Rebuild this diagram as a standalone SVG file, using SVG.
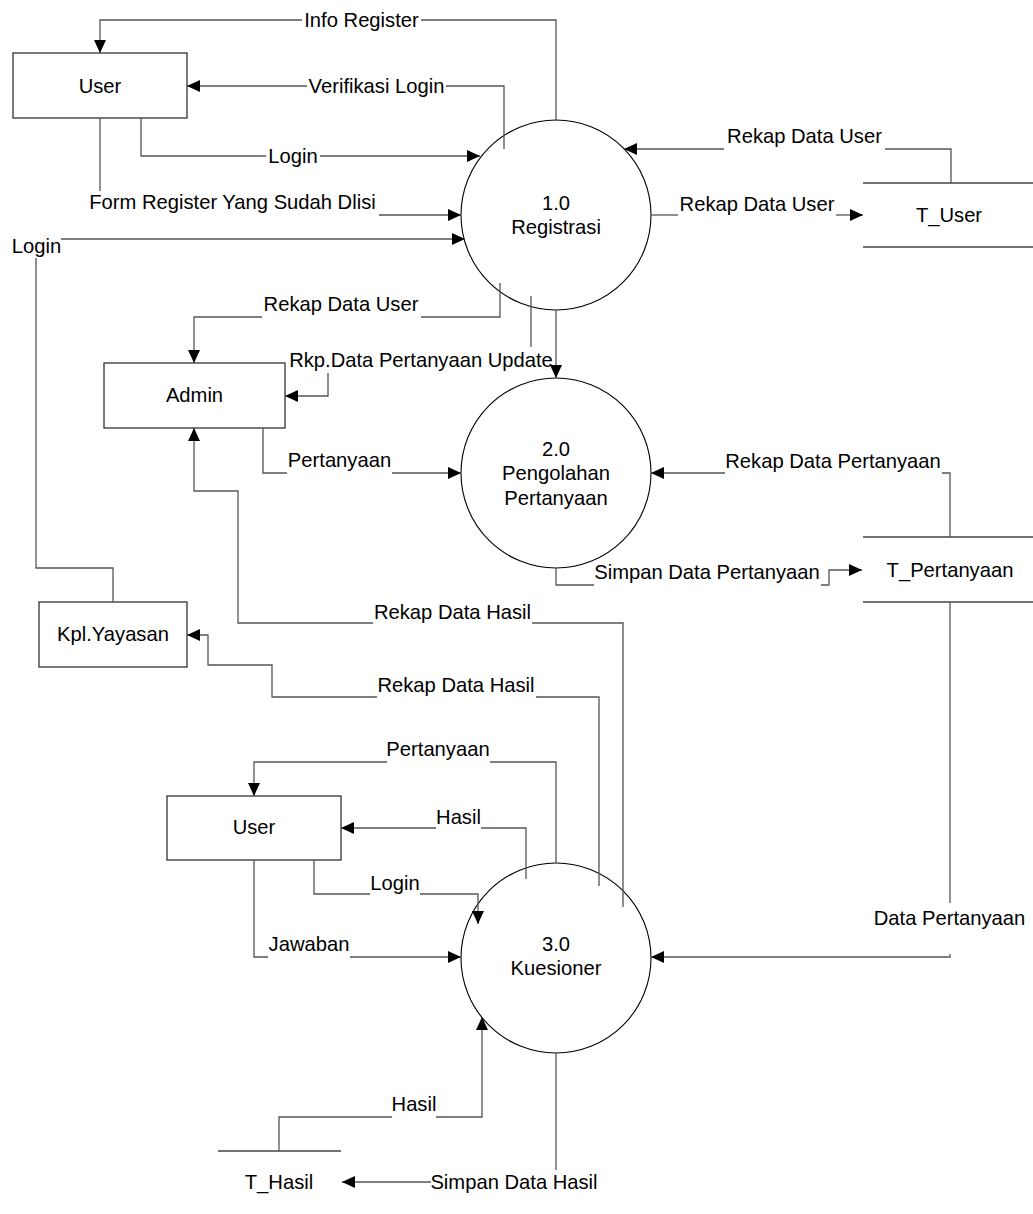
<svg xmlns="http://www.w3.org/2000/svg" width="1033" height="1214" viewBox="0 0 1033 1214">
<style>
text{font-family:"Liberation Sans",Arial,sans-serif;font-size:20.2px;fill:#000;text-anchor:middle}
.ent{fill:#fff;stroke:#333;stroke-width:1.3}
.proc{fill:#fff;stroke:#000;stroke-width:1.1}
.store{fill:none;stroke:#444;stroke-width:1.3}
.c{fill:none;stroke:#555;stroke-width:1.3}
.a{marker-end:url(#arr)}
</style>
<defs>
<marker id="arr" markerUnits="userSpaceOnUse" markerWidth="14" markerHeight="12" refX="13" refY="6" orient="auto">
<path d="M0,0 L13,6 L0,12 z" fill="#000"/>
</marker>
</defs>
<rect width="1033" height="1214" fill="#fff"/>

<g id="p1-registrasi">
<circle class="proc" cx="556" cy="215" r="95"/>
<text x="556" y="210">1.0</text>
<text x="556" y="234">Registrasi</text>
</g>
<g id="p2-pengolahan">
<circle class="proc" cx="556" cy="473" r="95"/>
<text x="556" y="456">2.0</text>
<text x="556" y="480">Pengolahan</text>
<text x="556" y="505">Pertanyaan</text>
</g>
<g id="p3-kuesioner">
<circle class="proc" cx="556" cy="958" r="95"/>
<text x="556" y="951">3.0</text>
<text x="556" y="975">Kuesioner</text>
</g>

<g id="user-top">
<rect class="ent" x="13" y="53" width="174" height="65"/>
<text x="100" y="93">User</text>
</g>
<g id="admin">
<rect class="ent" x="104" y="363" width="181" height="65"/>
<text x="194.5" y="402">Admin</text>
</g>
<g id="kpl-yayasan">
<rect class="ent" x="39" y="602" width="148" height="65"/>
<text x="113" y="641">Kpl.Yayasan</text>
</g>
<g id="user-bottom">
<rect class="ent" x="167" y="796" width="174" height="64"/>
<text x="254" y="834">User</text>
</g>

<g id="t-user">
<path class="store" d="M863,183 H1033 M863,247 H1033"/>
<text x="949" y="222">T_User</text>
</g>
<g id="t-pertanyaan">
<path class="store" d="M863,537 H1033 M863,602 H1033"/>
<text x="950" y="577">T_Pertanyaan</text>
</g>
<g id="t-hasil">
<path class="store" d="M218,1151 H341"/>
<text x="279" y="1189">T_Hasil</text>
</g>

<g id="connectors">
<!-- Info Register -->
<path class="c" d="M556,121 V20 H421"/>
<path class="c a" d="M302,20 H100 V53"/>
<text x="361.5" y="27">Info Register</text>
<!-- Verifikasi Login -->
<path class="c" d="M504,149 V86 H446"/>
<path class="c a" d="M307,86 H187"/>
<text x="376.5" y="93">Verifikasi Login</text>
<!-- Login user -> 1.0 -->
<path class="c" d="M141,118 V156 H266"/>
<path class="c a" d="M320,156 H480"/>
<text x="293" y="163">Login</text>
<!-- Form Register -->
<path class="c" d="M100,118 V191"/>
<text x="232.5" y="209">Form Register Yang Sudah Dlisi</text>
<path class="c a" d="M379,215 H461"/>
<!-- Login Kpl -> 1.0 -->
<path class="c" d="M113,602 V568 H36 V258"/>
<path class="c a" d="M61,239 H465"/>
<text x="36.5" y="253">Login</text>
<!-- Rekap Data User T_User -> 1.0 -->
<path class="c" d="M951,183 V149 H885"/>
<path class="c a" d="M724,149 H624"/>
<text x="804.5" y="143">Rekap Data User</text>
<!-- Rekap Data User 1.0 -> T_User -->
<path class="c" d="M651,215 H678"/>
<path class="c a" d="M836,215 H863"/>
<text x="757" y="211">Rekap Data User</text>
<!-- Rekap Data User 1.0 -> Admin -->
<path class="c" d="M500,283 V317 H421"/>
<path class="c a" d="M262,317 H194 V363"/>
<text x="341" y="311">Rekap Data User</text>
<!-- Rkp.Data Pertanyaan Update -->
<path class="c" d="M531,296 V347"/>
<path class="c a" d="M328,373 V396 H285"/>
<text x="421" y="367">Rkp.Data Pertanyaan Update</text>
<!-- 1.0 -> 2.0 -->
<path class="c a" d="M556,310 V378"/>
<!-- Pertanyaan Admin -> 2.0 -->
<path class="c" d="M263,428 V473 H287"/>
<path class="c a" d="M392,473 H461"/>
<text x="339.5" y="467">Pertanyaan</text>
<!-- Rekap Data Pertanyaan -->
<path class="c" d="M950,537 V473 H942"/>
<path class="c a" d="M725,473 H651"/>
<text x="833" y="468">Rekap Data Pertanyaan</text>
<!-- Simpan Data Pertanyaan -->
<path class="c" d="M556,568 V585 H594"/>
<path class="c a" d="M821,585 H829 V570 H862"/>
<text x="707" y="579">Simpan Data Pertanyaan</text>
<!-- Rekap Data Hasil -> Admin -->
<path class="c" d="M623,907 V623 H532"/>
<path class="c a" d="M373,623 H238 V491 H194 V428"/>
<text x="452.5" y="619">Rekap Data Hasil</text>
<!-- Rekap Data Hasil -> Kpl.Yayasan -->
<path class="c" d="M599,886 V697 H536"/>
<path class="c a" d="M377,697 H272 V665 H208 V635 H187"/>
<text x="456" y="692">Rekap Data Hasil</text>
<!-- Pertanyaan 3.0 -> User -->
<path class="c" d="M556,863 V762 H490"/>
<path class="c a" d="M387,762 H254 V796"/>
<text x="438" y="756">Pertanyaan</text>
<!-- Hasil 3.0 -> User -->
<path class="c" d="M526,879 V828 H481"/>
<path class="c a" d="M436,828 H341"/>
<text x="458.5" y="824">Hasil</text>
<!-- Login User -> 3.0 -->
<path class="c" d="M314,860 V894 H370"/>
<path class="c a" d="M420,894 H478 V924"/>
<text x="395" y="890">Login</text>
<!-- Jawaban -->
<path class="c" d="M254,860 V957 H268"/>
<path class="c a" d="M350,957 H461"/>
<text x="309" y="951">Jawaban</text>
<!-- Data Pertanyaan -->
<path class="c" d="M950,602 V903"/>
<path class="c a" d="M950,954 V957 H651"/>
<text x="949.5" y="925">Data Pertanyaan</text>
<!-- Hasil T_Hasil -> 3.0 -->
<path class="c" d="M279,1151 V1117 H392"/>
<path class="c a" d="M436,1117 H482 V1017"/>
<text x="414" y="1111">Hasil</text>
<!-- Simpan Data Hasil -->
<path class="c" d="M556,1053 V1170"/>
<path class="c a" d="M431,1182 H342"/>
<text x="514" y="1189">Simpan Data Hasil</text>
</g>
</svg>
